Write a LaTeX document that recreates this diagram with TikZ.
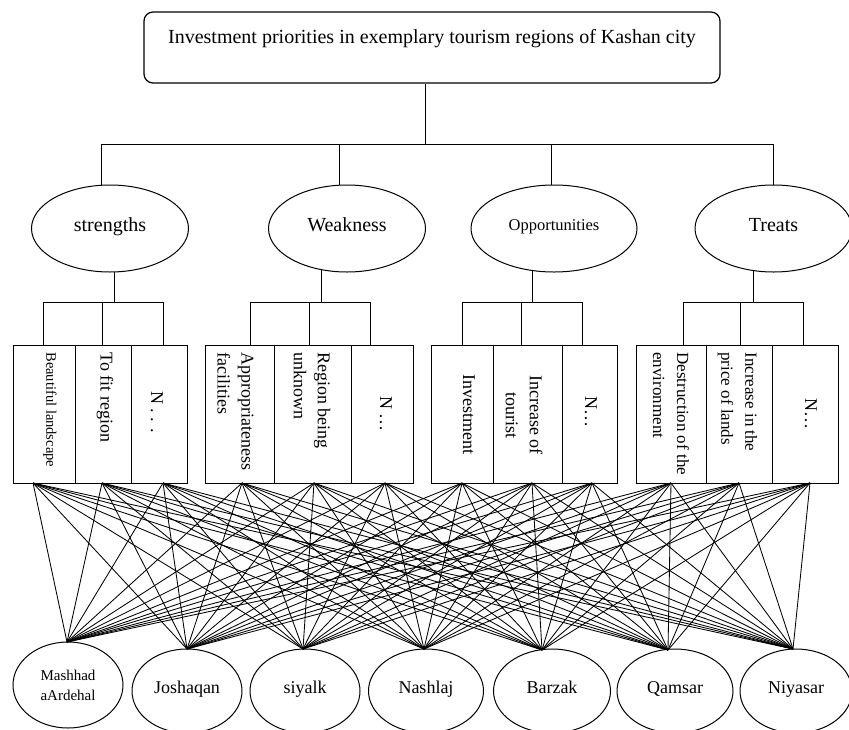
\documentclass[tikz,border=0pt]{standalone}
\usepackage{fontspec}
\setmainfont{Liberation Serif}
\usetikzlibrary{shapes.geometric}
\begin{document}
\begin{tikzpicture}[x=1pt,y=-1pt,line width=0.8pt,
  topoval/.style={draw,ellipse,line width=1pt,minimum width=157pt,minimum height=87pt,inner sep=0pt,text height=10pt,text depth=5pt,font=\fontsize{20}{22}\selectfont},
  botoval/.style={draw,ellipse,line width=1pt,minimum width=112pt,minimum height=84pt,inner sep=0pt,text height=9pt,text depth=5pt,font=\fontsize{18}{20}\selectfont},
  botovalm/.style={draw,ellipse,line width=1pt,minimum width=110pt,minimum height=86pt,inner sep=0pt,align=center,font=\fontsize{15}{20}\selectfont},
  cell/.style={draw,line width=1.2pt,minimum height=138pt,inner sep=0pt,anchor=north west},
  vtext/.style={rotate=-90,inner sep=0pt,font=\fontsize{18}{24}\selectfont,align=left},
  vtextb/.style={rotate=-90,inner sep=0pt,font=\fontsize{17}{24}\selectfont,align=left},
  link/.style={line width=0.85pt}]
\useasboundingbox (0,0) rectangle (849,729);

% title
\node[draw,rounded corners=9pt,minimum width=576pt,minimum height=71pt,line width=1.2pt] (title) at (432,47.5) {};
\node[font=\fontsize{20}{22}\selectfont,inner sep=0pt] (titletext) at (432,39) {Investment priorities in exemplary tourism regions of Kashan city};

% upper ellipses
\node[topoval] (S) at (110,228.5) {strengths};
\node[topoval] (W) at (347,228.5) {Weakness};
\node[topoval,minimum width=166pt,font=\fontsize{16.5}{18}\selectfont,text height=9pt,text depth=5pt] (O) at (554,228.5) {Opportunities};
\node[topoval] (T) at (773.5,228.5) {Treats};

% junctions of the main bar
\coordinate (j0) at (425,144);
\coordinate (jS) at (101,144);
\coordinate (jW) at (339,144);
\coordinate (jO) at (551,144);
\coordinate (jT) at (773,144);
\draw (title.south -| j0) -- (j0);
\draw (jS) -- (jT);
\draw (jS) -- (jS |- S.101.8);
\draw (jW) -- (jW |- W.100.5);
\draw (jO) -- (jO |- O.92);
\draw (jT) -- (jT |- T.90);

% boxes
\node[cell,minimum width=62pt] (c1) at (13,345) {};
\node[cell,minimum width=56pt] (c2) at (75,345) {};
\node[cell,minimum width=56pt] (c3) at (131,345) {};
\node[cell,minimum width=69pt] (c4) at (205,345) {};
\node[cell,minimum width=77pt] (c5) at (274,345) {};
\node[cell,minimum width=62pt] (c6) at (351,345) {};
\node[cell,minimum width=62pt] (c7) at (431,345) {};
\node[cell,minimum width=69pt] (c8) at (493,345) {};
\node[cell,minimum width=55pt] (c9) at (562,345) {};
\node[cell,minimum width=70pt] (c10) at (636,345) {};
\node[cell,minimum width=66pt] (c11) at (706,345) {};
\node[cell,minimum width=66pt] (c12) at (772,345) {};

% stems and sub-bars
\coordinate (kS) at (114,302);
\coordinate (kW) at (321,302);
\coordinate (kO) at (532,302);
\coordinate (kT) at (753,302);
\draw (kS |- S.275.3) -- (kS);
\draw (kW |- W.237.6) -- (kW);
\draw (kO |- O.242.3) -- (kO);
\draw (kT |- T.244) -- (kT);

\coordinate (a1) at (43,302);  \coordinate (a2) at (102,302); \coordinate (a3) at (163,302);
\coordinate (a4) at (250,302); \coordinate (a5) at (309,302); \coordinate (a6) at (370,302);
\coordinate (a7) at (462,302); \coordinate (a8) at (521,302); \coordinate (a9) at (582,302);
\coordinate (a10) at (683,302); \coordinate (a11) at (740,302); \coordinate (a12) at (803,302);
\draw (a1) -- (a3);
\draw (a4) -- (a6);
\draw (a7) -- (a9);
\draw (a10) -- (a12);
\foreach \i in {1,...,12} {\draw (a\i) -- (a\i |- c\i.north);}

% box texts
\node[vtext,anchor=west,font=\fontsize{14.5}{16}\selectfont] (t1) at (50,352) {Beautiful landscape};
\node[vtext,anchor=west] (t2) at (105,352) {To fit region};
\node[vtext,anchor=center] (t3) at (157,412) {N . . .};
\node[vtext,anchor=west] (t4) at (235.5,352) {Appropriateness\\facilities};
\node[vtext,anchor=west] (t5) at (312,352) {Region being\\unknown};
\node[vtext,anchor=center] (t6) at (386,414) {N …};
\node[vtext,anchor=center] (t7) at (469,414) {Investment};
\node[vtext,anchor=center,align=center] (t8) at (524,415) {Increase of\\tourist};
\node[vtext,anchor=center] (t9) at (591,412) {N…};
\node[vtextb,anchor=west] (t10) at (671,352) {Destruction of the\\environment};
\node[vtextb,anchor=west] (t11) at (737.5,352) {Increase in the\\price of lands};
\node[vtext,anchor=center] (t12) at (811,414) {N…};

% bottom ellipses
\node[botovalm] (r1) at (68,685) {Mashhad\\aArdehal};
\node[botoval,minimum width=110pt] (r2) at (187,691) {Joshaqan};
\node[botoval,minimum width=110pt] (r3) at (305,691) {siyalk};
\node[botoval,minimum width=115pt] (r4) at (426,691) {Nashlaj};
\node[botoval,minimum width=117pt] (r5) at (552,691) {Barzak};
\node[botoval,minimum width=116pt] (r6) at (675,691) {Qamsar};
\node[botoval,minimum width=112pt] (r7) at (796,691) {Niyasar};

% fan points
\coordinate (f1) at (33,483);  \coordinate (f2) at (102,483); \coordinate (f3) at (163,483);
\coordinate (f4) at (242,483); \coordinate (f5) at (314,483); \coordinate (f6) at (385,483);
\coordinate (f7) at (462,483); \coordinate (f8) at (532,483); \coordinate (f9) at (592,483);
\coordinate (f10) at (671,483); \coordinate (f11) at (739,483); \coordinate (f12) at (810,483);

\coordinate (g1) at (67,642);
\coordinate (g2) at (187,649);
\coordinate (g3) at (303,649);
\coordinate (g4) at (424,649);
\coordinate (g5) at (542,650);
\coordinate (g6) at (668,650);
\coordinate (g7) at (793,649);

\foreach \i in {1,...,12} {
  \foreach \j in {1,...,7} {
    \draw[link] (f\i) -- (g\j);
  }
}
\end{tikzpicture}
\end{document}
